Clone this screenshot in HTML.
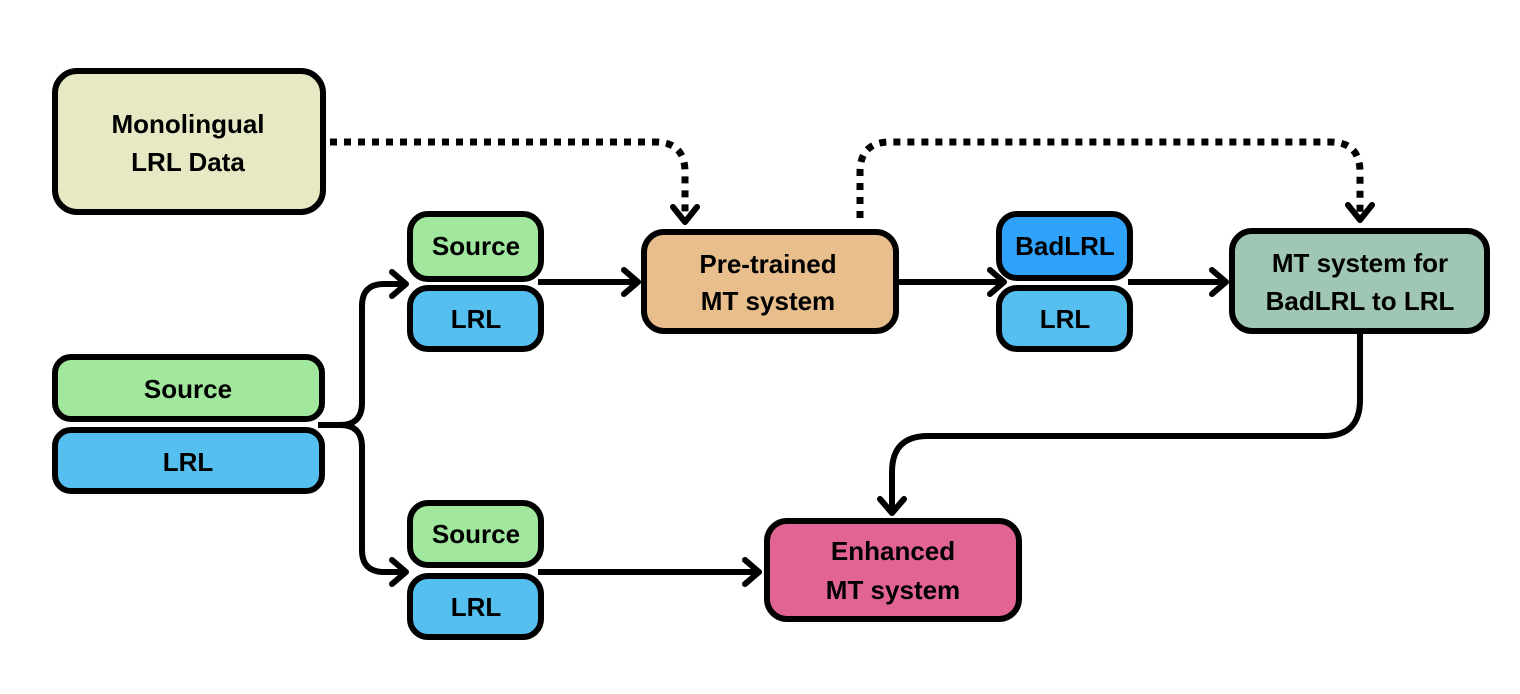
<!DOCTYPE html>
<html><head><meta charset="utf-8"><style>
html,body{margin:0;padding:0;background:#fff;}
svg{display:block;}
text{font-family:"Liberation Sans",sans-serif;font-weight:bold;fill:#000;text-anchor:middle;}
</style></head><body>
<svg width="1520" height="694" viewBox="0 0 1520 694" xmlns="http://www.w3.org/2000/svg">
<g stroke="#000" stroke-width="7" fill="none" stroke-linecap="butt">
<path d="M330,142 H655 Q685,142 685,172 V222" stroke-dasharray="7,7"/>
<path d="M860,218 V172 Q860,142 890,142 H1330 Q1360,142 1360,172 V220" stroke-dasharray="7,7"/>
</g>
<g stroke="#000" stroke-width="6" fill="none" stroke-linecap="butt">
<path d="M318,425 H340 Q362,425 362,403 V306 Q362,284 384,284 H405"/>
<path d="M340,425 Q362,425 362,447 V550 Q362,572 384,572 H405"/>
<path d="M538,282 H636"/>
<path d="M898,282 H1003"/>
<path d="M1128,282 H1225"/>
<path d="M538,572 H758"/>
<path d="M1360,333 V400 Q1360,436 1324,436 H928 Q892,436 892,472 V512"/>
</g>
<g stroke="#000" stroke-width="6" fill="none" stroke-linecap="round" stroke-linejoin="round">
<path d="M673,207 L685,222 L697,207"/>
<path d="M1348,205 L1360,220 L1372,205"/>
<path d="M392,272 L406,284 L392,296"/>
<path d="M392,560 L406,572 L392,584"/>
<path d="M624,270 L638,282 L624,294"/>
<path d="M990,270 L1004,282 L990,294"/>
<path d="M1212,270 L1226,282 L1212,294"/>
<path d="M745,560 L759,572 L745,584"/>
<path d="M880,499 L892,513 L904,499"/>
</g>
<g stroke="#000" stroke-width="6">
<rect x="55" y="71" width="268" height="141" rx="22" fill="#e6e9c4"/>
<rect x="55" y="357" width="267" height="62" rx="16" fill="#a1e89e"/>
<rect x="55" y="430" width="267" height="61" rx="16" fill="#55bfef"/>
<rect x="410" y="214" width="131" height="65" rx="18" fill="#a1e89e"/>
<rect x="410" y="288" width="131" height="61" rx="18" fill="#55bfef"/>
<rect x="644" y="232" width="252" height="99" rx="20" fill="#e8be8c"/>
<rect x="999" y="214" width="131" height="64" rx="18" fill="#2fa3fc"/>
<rect x="999" y="288" width="131" height="61" rx="18" fill="#55bfef"/>
<rect x="1232" y="231" width="255" height="100" rx="20" fill="#9fc7b4"/>
<rect x="410" y="503" width="131" height="62" rx="18" fill="#a1e89e"/>
<rect x="410" y="576" width="131" height="61" rx="18" fill="#55bfef"/>
<rect x="767" y="521" width="252" height="98" rx="20" fill="#e26495"/>
</g>
<g font-size="26">
<text x="188" y="133">Monolingual</text>
<text x="188" y="171">LRL Data</text>
<text x="188" y="398">Source</text>
<text x="188" y="471">LRL</text>
<text x="476" y="255">Source</text>
<text x="476" y="328">LRL</text>
<text x="768" y="273">Pre-trained</text>
<text x="768" y="310">MT system</text>
<text x="1065" y="255">BadLRL</text>
<text x="1065" y="328">LRL</text>
<text x="1360" y="272">MT system for</text>
<text x="1360" y="310">BadLRL to LRL</text>
<text x="476" y="543">Source</text>
<text x="476" y="616">LRL</text>
<text x="893" y="560">Enhanced</text>
<text x="893" y="599">MT system</text>
</g>
</svg>
</body></html>
